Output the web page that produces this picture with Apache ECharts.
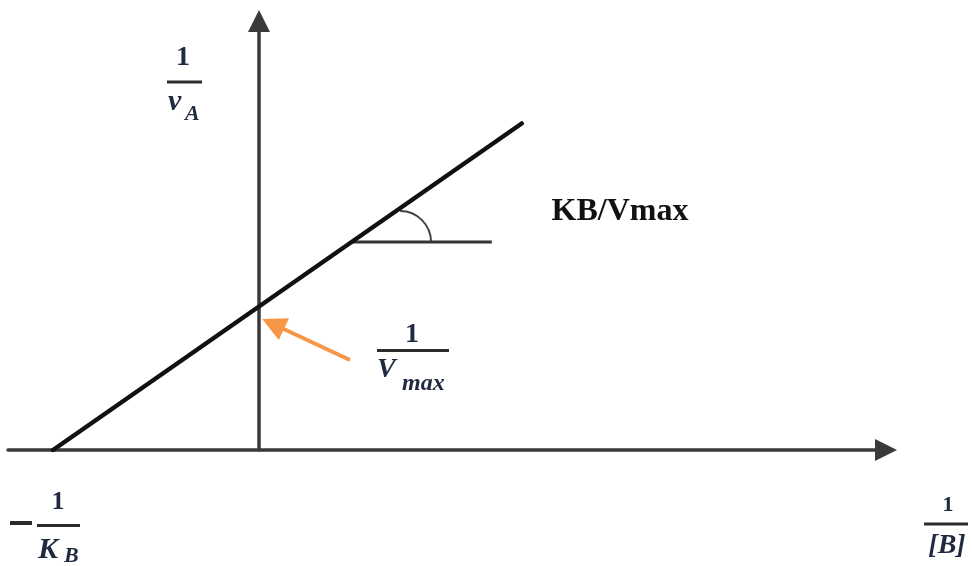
<!DOCTYPE html>
<html>
<head>
<meta charset="utf-8">
<script src="https://cdn.jsdelivr.net/npm/echarts@6/dist/echarts.min.js"></script>
<style>
  html, body { margin: 0; padding: 0; background: #fff; }
  #chart { width: 972px; height: 566px; }
</style>
</head>
<body>
<div id="chart"></div>
<script>
// axis ranges (1 unit = -1/KB / 2)
const xRange = [-2.437, 6.087]
const yRange = [0, 4.165]

// Lineweaver-Burk line: from -1/KB on the x axis up to the right
const lineX = [-2, 2.55]
const lineY = [0, 3.17]

// slope marker (horizontal leg + arc)
const slopeX = [0.89, 2.26]
const slopeY = [2.02, 2.02]
const arcCenter = [1.37, 2.02]
const arcRadius = 0.3

// orange arrow pointing at the y intercept 1/Vmax
const arrowTail = [0.883, 0.874]
const arrowHead = [0.136, 1.223]

const slopeLabel = 'KB/Vmax'

const mathColor = '#1f2940'
const mathFont = '"Liberation Serif", "DejaVu Serif", serif'

function txt(text, x, y, size, opts) {
  return {
    type: 'text',
    x: x,
    y: y,
    style: Object.assign({
      text: text,
      fontFamily: mathFont,
      fontWeight: 'bold',
      fontSize: size,
      fill: mathColor,
      align: 'center',
      verticalAlign: 'middle'
    }, opts || {})
  }
}
function bar(x, y, w, h) {
  return { type: 'rect', shape: { x: x, y: y, width: w, height: h || 3 }, style: { fill: '#2b2b2b' } }
}

const chart = echarts.init(document.getElementById('chart'))

const toPairs = (xs, ys) => xs.map((x, i) => [x, ys[i]])

chart.setOption({
  animation: false,
  grid: { left: 8, right: 86, top: 21, bottom: 116 },
  xAxis: {
    type: 'value',
    min: xRange[0],
    max: xRange[1],
    splitLine: { show: false },
    axisTick: { show: false },
    axisLabel: { show: false },
    axisLine: {
      onZero: true,
      symbol: ['none', 'triangle'],
      symbolSize: [22, 22],
      lineStyle: { color: '#3a3a3a', width: 3.5 }
    }
  },
  yAxis: {
    type: 'value',
    min: yRange[0],
    max: yRange[1],
    splitLine: { show: false },
    axisTick: { show: false },
    axisLabel: { show: false },
    axisLine: {
      onZero: true,
      symbol: ['none', 'triangle'],
      symbolSize: [22, 22],
      lineStyle: { color: '#3a3a3a', width: 3.5 }
    }
  },
  series: [
    {
      type: 'line',
      data: toPairs(lineX, lineY),
      showSymbol: false,
      lineStyle: { color: '#111', width: 4.5, cap: 'round' },
      z: 5
    },
    {
      type: 'line',
      data: toPairs(slopeX, slopeY),
      showSymbol: false,
      lineStyle: { color: '#333', width: 3 }
    },
    {
      type: 'custom',
      data: [[arcCenter[0], arcCenter[1], arcRadius]],
      renderItem: function (params, api) {
        const c = api.coord([api.value(0), api.value(1)])
        const r = api.size([api.value(2), 0])[0]
        return {
          type: 'arc',
          shape: { cx: c[0], cy: c[1], r: r, startAngle: -Math.PI / 2, endAngle: 0, clockwise: true },
          style: { stroke: '#444', lineWidth: 2, fill: null }
        }
      }
    },
    {
      type: 'lines',
      coordinateSystem: 'cartesian2d',
      data: [{ coords: [arrowTail, arrowHead] }],
      symbol: ['none', 'triangle'],
      symbolSize: 24,
      lineStyle: { color: '#f79646', width: 4, opacity: 1, curveness: 0 },
      z: 6
    }
  ],
  graphic: [
    // 1 / v_A
    txt('1', 183, 58, 28),
    bar(167, 80.5, 35),
    txt('v', 168, 102, 30, { align: 'left', fontStyle: 'italic' }),
    txt('A', 185, 114, 22, { align: 'left', fontStyle: 'italic' }),
    // 1 / V_max
    txt('1', 412, 335, 28),
    bar(377, 349, 72),
    txt('V', 377, 370, 28, { align: 'left', fontStyle: 'italic' }),
    txt('max', 402, 384, 24, { align: 'left', fontStyle: 'italic' }),
    // -1 / K_B
    bar(10, 521, 22, 4),
    txt('1', 58, 502, 26),
    bar(37, 524, 43),
    txt('K', 38, 550, 30, { align: 'left', fontStyle: 'italic' }),
    txt('B', 64, 556, 22, { align: 'left', fontStyle: 'italic' }),
    // 1 / [B]
    txt('1', 948, 505, 22),
    bar(924, 522.5, 44),
    txt('[B]', 947, 546, 28, { fontStyle: 'italic' }),
    // slope label
    txt(slopeLabel, 620, 212, 32, { fill: '#111' })
  ]
})
</script>
</body>
</html>
